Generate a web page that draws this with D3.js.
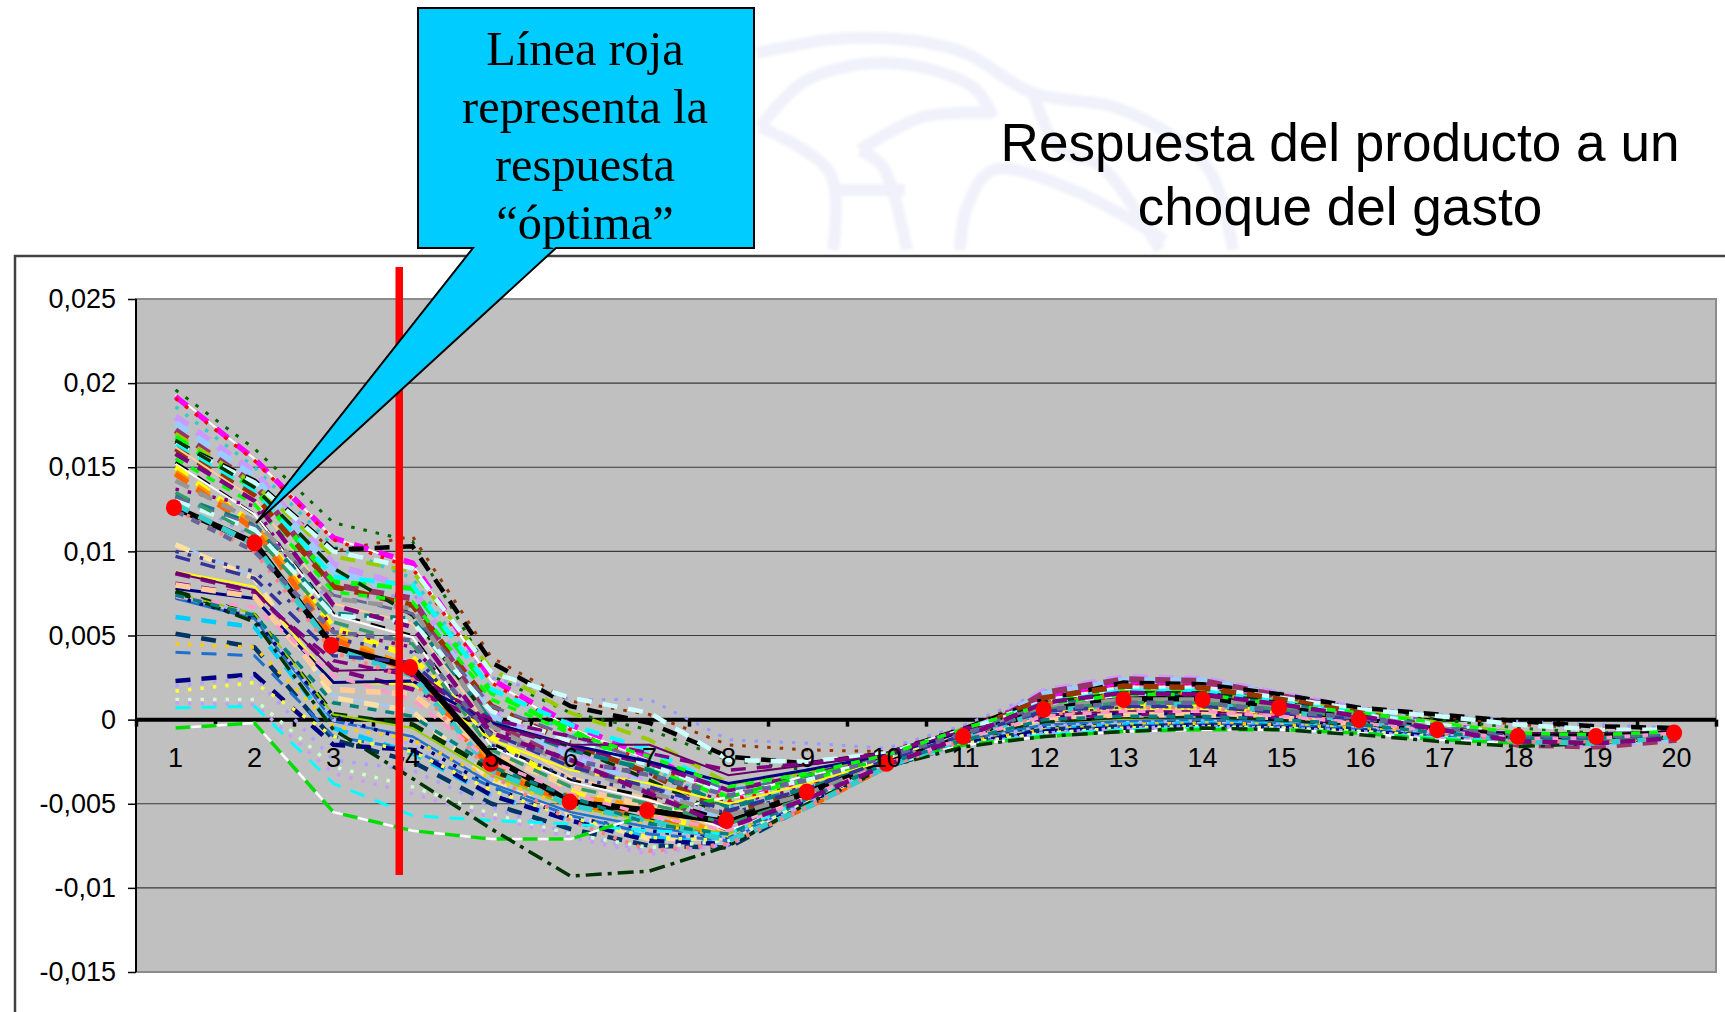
<!DOCTYPE html>
<html lang="es">
<head>
<meta charset="utf-8">
<title>Respuesta del producto a un choque del gasto</title>
<script src="https://cdn.jsdelivr.net/npm/d3@7"></script>
<style>
html,body{margin:0;padding:0;background:#fff;overflow:hidden}
svg{display:block}
</style>
</head>
<body>
<div id="chart"></div>
<script>
// ---------- data ----------
const categories = d3.range(1, 21);
const yTickValues = [0.025, 0.02, 0.015, 0.01, 0.005, 0, -0.005, -0.01, -0.015];
const yTickLabels = ["0,025", "0,02", "0,015", "0,01", "0,005", "0", "-0,005", "-0,01", "-0,015"];
const valueUnit = 1e-4;   // the series below are written in units of 0,0001

const seriesValues = [
 [196,161,117,106,26,4,-6,-24,-30,-22,-7,10,19,19,12,6,0,-5,-8,-7],
 [165,141,100,109,37,11,3,-15,-18,-19,-4,14,24,23,15,7,2,-3,-5,-6],
 [134,108,70,75,25,12,12,-12,-14,-17,-3,17,25,24,16,7,3,-1,-3,-5],
 [193,155,108,92,23,-5,-24,-47,-37,-23,-6,13,21,20,13,6,-4,-10,-11,-9],
 [192,155,108,93,24,-3,-22,-45,-36,-24,-7,14,22,21,14,6,-3,-9,-11,-9],
 [191,154,107,90,22,-6,-26,-48,-38,-25,-7,12,20,20,13,5,-4,-10,-12,-9],
 [186,150,103,84,18,-9,-28,-52,-41,-26,-8,11,19,19,12,4,-5,-11,-12,-9],
 [180,147,92,78,5,-20,-38,-63,-48,-27,-10,17,25,24,15,6,-5,-13,-15,-11],
 [176,144,88,74,2,-22,-40,-60,-46,-26,-9,15,23,23,14,6,-4,-12,-14,-11],
 [172,140,80,72,-2,-26,-42,-66,-50,-28,-11,16,24,23,14,5,-6,-15,-16,-12],
 [170,140,97,88,30,4,-12,-38,-32,-22,-6,10,17,17,11,5,-2,-8,-10,-8],
 [168,137,82,78,16,-6,-30,-46,-36,-23,-6,11,18,18,11,4,-4,-10,-11,-9],
 [165,142,101,103,34,8,-2,-22,-26,-20,-5,12,22,21,15,7,3,-1,-4,-5],
 [164,141,100,90,28,13,4,-24,-25,-20,-6,11,19,19,13,6,2,-3,-6,-6],
 [163,136,85,80,18,-3,-18,-42,-34,-23,-6,10,17,17,10,4,-3,-9,-10,-8],
 [161,133,79,68,8,-14,-32,-55,-42,-25,-8,13,20,19,12,4,-5,-11,-13,-10],
 [166,138,90,62,-2,-16,-36,-58,-44,-25,-8,10,16,16,10,3,-6,-13,-14,-10],
 [162,131,69,57,-6,-34,-47,-68,-50,-28,-10,7,12,12,7,1,-7,-13,-14,-10],
 [153,122,63,50,-14,-36,-46,-60,-45,-26,-10,5,10,10,5,0,-7,-12,-12,-9],
 [152,122,62,49,-16,-37,-48,-66,-48,-27,-11,4,9,9,4,-1,-8,-13,-13,-10],
 [150,116,55,37,-10,-42,-55,-69,-50,-28,-11,4,9,9,5,-1,-7,-12,-13,-9],
 [147,116,50,30,-28,-46,-52,-70,-51,-28,-10,6,11,11,6,0,-7,-12,-13,-10],
 [146,113,48,28,-30,-50,-58,-72,-52,-28,-11,9,15,14,8,1,-7,-12,-14,-10],
 [137,127,53,43,-5,-25,-32,-50,-40,-24,-8,6,11,11,6,0,-6,-11,-12,-9],
 [133,116,63,60,-1,-18,-30,-52,-41,-25,-8,8,14,14,9,3,-4,-10,-11,-9],
 [132,115,74,63,8,-10,-25,-42,-34,-22,-6,8,13,13,8,3,-4,-9,-10,-8],
 [130,113,62,58,5,-13,-27,-44,-36,-23,-6,9,14,14,9,3,-3,-9,-10,-8],
 [128,104,42,26,-30,-51,-60,-72,-52,-28,-11,5,9,9,5,-1,-7,-13,-14,-10],
 [125,100,40,24,-33,-60,-78,-74,-52,-28,-12,3,7,7,3,-2,-8,-13,-13,-10],
 [105,85,14,6,-35,-56,-70,-72,-50,-28,-12,2,5,5,2,-2,-7,-12,-12,-9],
 [104,84,13,5,-36,-57,-71,-70,-49,-27,-12,1,5,4,2,-3,-8,-11,-12,-9],
 [100,88,48,40,-15,-35,-42,-56,-43,-25,-9,3,7,7,3,-1,-6,-10,-10,-8],
 [88,79,22,21,-12,-30,-38,-50,-38,-24,-8,2,6,6,3,-1,-5,-10,-10,-8],
 [87,76,30,18,-3,-16,-26,-42,-33,-22,-7,1,4,4,2,-2,-6,-10,-10,-8],
 [78,72,22,23,-2,-15,-25,-38,-30,-21,-7,1,4,3,1,-3,-6,-9,-10,-8],
 [87,77,29,30,-3,-15,-15,-33,-27,-21,-6,3,5,5,2,-1,-5,-8,-8,-7],
 [81,74,35,26,0,-10,-20,-30,-26,-20,-5,0,3,3,1,-2,-6,-9,-9,-7],
 [80,73,18,15,-20,-40,-52,-62,-44,-25,-9,0,3,3,1,-3,-7,-10,-10,-8],
 [76,62,3,-3,-30,-48,-60,-72,-48,-27,-12,-2,0,1,-1,-4,-8,-12,-12,-9],
 [75,63,3,-5,-33,-52,-60,-68,-47,-26,-12,-3,0,0,-2,-5,-8,-12,-12,-9],
 [72,60,-1,-10,-38,-55,-64,-70,-48,-27,-12,-3,-1,0,-2,-5,-9,-11,-11,-9],
 [74,63,0,-15,-45,-58,-68,-70,-48,-27,-13,-4,-2,-1,-3,-5,-9,-12,-12,-9],
 [73,60,2,-13,-40,-58,-66,-72,-49,-27,-13,-5,-3,-2,-3,-5,-10,-12,-12,-9],
 [61,55,-5,-20,-45,-60,-70,-74,-50,-28,-14,-6,-3,-2,-3,-6,-10,-13,-12,-9],
 [51,43,-12,-25,-50,-65,-75,-76,-51,-28,-14,-6,-4,-3,-4,-6,-11,-13,-12,-9],
 [45,43,-4,-12,-35,-52,-62,-69,-47,-26,-13,-6,-3,-2,-3,-5,-9,-11,-11,-8],
 [40,38,-10,-18,-40,-57,-68,-72,-48,-27,-14,-7,-4,-3,-4,-6,-10,-12,-11,-9],
 [23,27,-15,-18,-45,-60,-72,-74,-49,-27,-14,-7,-5,-4,-5,-7,-10,-13,-12,-9],
 [20,25,-24,-30,-52,-68,-78,-75,-50,-27,-15,-8,-5,-4,-5,-7,-11,-13,-12,-9],
 [17,22,-10,-19,-42,-58,-70,-72,-48,-27,-14,-8,-5,-4,-5,-7,-10,-12,-11,-9],
 [12,12,-28,-40,-56,-68,-76,-72,-48,-27,-15,-8,-6,-5,-5,-7,-11,-13,-12,-9],
 [10,9,-32,-44,-58,-70,-80,-74,-49,-27,-15,-9,-6,-5,-6,-8,-11,-14,-12,-9],
 [7,8,-38,-57,-60,-62,-66,-68,-47,-26,-15,-9,-6,-5,-6,-8,-11,-13,-12,-9],
 [-5,-2,-55,-66,-71,-71,-56,-46,-33,-24,-15,-10,-7,-6,-6,-8,-12,-14,-12,-9],
 [-5,-2,-55,-66,-71,-71,-56,-46,-33,-24,-15,-10,-7,-6,-6,-8,-12,-14,-12,-9],
 [76,58,-6,-35,-65,-93,-90,-75,-50,-28,-16,-10,-7,-5,-6,-9,-13,-16,-14,-10],
 [142,118,72,66,-4,-28,-43,-57,-44,-25,-9,7,12,12,8,2,-5,-11,-12,-9],
 [135,110,58,45,-18,-40,-50,-62,-46,-26,-10,6,10,10,6,1,-6,-11,-12,-9],
 [97,84,38,34,-8,-28,-40,-54,-41,-24,-9,5,8,8,4,0,-6,-10,-11,-8],
 [73,67,26,12,-25,-44,-57,-66,-46,-26,-11,2,5,5,2,-2,-7,-11,-11,-8],
 [74,62,10,2,-28,-46,-62,-68,-47,-26,-12,0,2,2,0,-3,-8,-11,-11,-9],
 [124,100,52,47,-10,-24,-33,-45,-36,-22,-8,6,10,10,5,1,-5,-9,-10,-8],
 [155,128,76,70,12,-8,-22,-40,-32,-21,-5,9,15,15,9,4,-2,-8,-9,-7],
 [158,130,68,55,-8,-24,-44,-64,-47,-27,-10,10,16,15,9,2,-6,-13,-14,-11]
];
const seriesColors = [
 "#006400","#993300","#9999FF","#FFFFFF","#FF00FF","#FF0000","#33CCCC","#CC99FF","#99CCFF","#993366",
 "#99CC00","#00FF00","#000000","#CCFFFF","#00FFFF","#993300","#003300","#FFCC99","#000000","#FFFFFF",
 "#FFFF00","#FF9900","#FF6600","#800080","#008080","#666699","#CCFFFF","#33CCCC","#FF8080","#99CCFF",
 "#FFE0A0","#333399","#FFFF00","#800080","#000080","#660066","#800080","#FFCC99","#003300","#99CC00",
 "#1F6FCC","#B0B0FF","#000080","#00CCFF","#003366","#FFCC00","#1F6FCC","#000080","#B0A0FF","#FFFF33",
 "#CCFFCC","#CC99FF","#00FFFF","#FFFFFF","#00DD00","#003300","#969696","#339966","#333399","#FF99CC",
 "#008080","#666699","#00FF00","#800080"
];
const seriesDash = [
 "o","o","o","s","D","o","o","D","D","D",
 "D","D","D","D","D","D","D","s","D","s",
 "D","D","D","o","D","D","D","D","o","s",
 "D","o","s","D","s","s","D","D","D","s",
 "s","o","o","D","D","o","D","D","o","o",
 "o","o","D","s","D","q","D","D","D","d",
 "d","d","d","D"
];
const seriesWidths = [
 3,3,3,2,5.5,3.5,3.5,7,7,6,
 4,5,4.5,4.5,4.5,5.5,3.5,2,3,2,
 5.5,6,5.5,3.5,4.5,3,4.5,5.5,4,2,
 5,3.5,2,4.5,3,2,3.5,5.5,5,2,
 2.5,4,3.5,4.5,4.5,3.5,3,4.5,3.5,3.5,
 3.5,3.5,3,2.5,3.5,3.5,4.5,3.5,3.5,3.5,
 3.5,4.5,3.5,4.5
];
const optimalLine = [126,105,43,31,-22,-49,-54,-61,-43,-26,-10,6,12,13,7,0,-6,-10,-10,-8];
const optimalDotCats = [0.98,2,2.97,3.97,4.99,5.99,6.97,7.97,8.99,10,10.97,11.99,13,14,14.97,15.98,16.97,17.99,18.98,19.97];
const optimalDotVals = [126,105,44,31,-26,-49,-54,-60,-43,-26,-10,6,12,12,7,0,-6,-10,-10,-8];
const calloutLines = ["Línea roja", "representa la", "respuesta", "“óptima”"];
const titleLines = ["Respuesta del producto a un", "choque del gasto"];

// ---------- layout ----------
const W = 1725, H = 1012;
const plot = {l:136, r:1716, t:299, b:972};
const dashMap = {s:null, D:"15,11", d:"9,9", q:"16,6,4,6", o:"3.5,9"};

const svg = d3.select("#chart").append("svg").attr("width", W).attr("height", H)
  .attr("viewBox", `0 0 ${W} ${H}`);
svg.append("filter").attr("id","soft").append("feGaussianBlur").attr("stdDeviation",1.6);

const x = d3.scaleLinear().domain([0.5, 20.5]).range([plot.l, plot.r]);
const y = d3.scaleLinear().domain([-0.015, 0.025]).range([plot.b, plot.t]);

// faint emblem behind the slide
const emblem = svg.append("g").attr("fill","none").attr("stroke","#F1F1FB").attr("stroke-width",12).attr("filter","url(#soft)");
const curve = d3.line().curve(d3.curveCatmullRom);
[
 [[757,53],[850,38],[957,50],[1033,93],[1123,110],[1207,167],[1233,250]],
 [[760,127],[807,80],[890,63],[973,87],[993,117]],
 [[860,150],[923,117],[993,113]],
 [[860,150],[883,167],[907,250]],
 [[760,127],[830,173],[833,250]],
 [[835,190],[905,190]],
 [[960,250],[967,207],[993,170],[1073,190],[1165,240]],
 [[1033,93],[1060,150],[1100,165],[1160,250]]
].forEach(p => emblem.append("path").attr("d", curve(p)));

// chart frame
svg.append("path").attr("d", `M15,${H+5}V256H${W+5}`)
  .attr("fill","#fff").attr("stroke","#404040").attr("stroke-width",2.5);

// plot area
svg.append("rect").attr("x",plot.l).attr("y",plot.t).attr("width",plot.r-plot.l).attr("height",plot.b-plot.t)
  .attr("fill","#C0C0C0").attr("stroke","#8C8C8C").attr("stroke-width",2);

// gridlines
svg.append("g").selectAll("line").data(yTickValues.filter(v => v !== 0.025 && v !== -0.015 && v !== 0)).join("line")
  .attr("x1",plot.l).attr("x2",plot.r).attr("y1",d=>y(d)).attr("y2",d=>y(d))
  .attr("stroke","#3A3A3A").attr("stroke-width",1.2);

// y axis
const yAxis = d3.axisLeft(y).tickValues(yTickValues).tickSize(8).tickPadding(12)
  .tickFormat((d,i) => yTickLabels[i]);
const gy = svg.append("g").attr("transform",`translate(${plot.l},0)`).call(yAxis);
gy.select(".domain").attr("stroke","#000").attr("stroke-width",2).attr("d",`M0,${plot.t}V${plot.b}`);
gy.selectAll(".tick line").attr("stroke","#000").attr("stroke-width",1.5);
gy.selectAll("text").attr("font-family","'Liberation Sans',Arial,sans-serif").attr("font-size",27).attr("fill","#000");

// x axis on the zero line, ticks between categories
const xEdges = d3.range(0.5, 21, 1);
const xAxis = d3.axisBottom(x).tickValues(xEdges).tickSize(7).tickFormat("");
const gx = svg.append("g").attr("transform",`translate(0,${y(0)})`).call(xAxis);
gx.select(".domain").attr("stroke","#000").attr("stroke-width",4).attr("d",`M${plot.l},0H${plot.r}`);
gx.selectAll(".tick line").attr("stroke","#000").attr("stroke-width",3.5);

// series, with the thick black optimal response among them
const line = d3.line().x((d,i)=>x(categories[i])).y(d=>y(d*valueUnit)).curve(d3.curveLinear);
const drawSeries = (from, to) => svg.append("g").attr("fill","none")
  .selectAll("path").data(d3.range(from, to)).join("path")
  .attr("d", i => line(seriesValues[i]))
  .attr("stroke", i => seriesColors[i])
  .attr("stroke-width", i => seriesWidths[i])
  .attr("stroke-dasharray", i => dashMap[seriesDash[i]])
  .attr("stroke-linejoin","miter");
drawSeries(0, 27);
drawSeries(29, 56);
svg.append("path").datum(optimalLine).attr("d",line).attr("fill","none")
  .attr("stroke","#000").attr("stroke-width",6);
drawSeries(27, 29);
drawSeries(56, seriesValues.length);

svg.append("g").selectAll("ellipse").data(optimalDotVals).join("ellipse")
  .attr("cx",(d,i)=>x(optimalDotCats[i])).attr("cy",d=>y(d*valueUnit))
  .attr("rx",8).attr("ry",8.5).attr("fill","#FF0000");

// category labels
svg.append("g").selectAll("text").data(categories).join("text")
  .attr("x",d=>x(d)).attr("y",y(0)+47)
  .attr("text-anchor","middle")
  .attr("font-family","'Liberation Sans',Arial,sans-serif").attr("font-size",27).attr("fill","#000")
  .text(d=>d);

// vertical red marker
svg.append("rect").attr("x",395.5).attr("y",267).attr("width",7.5).attr("height",608).attr("fill","#FF0000");

// callout
svg.append("path")
  .attr("d","M418,8H754V248H556L256,523L473,248H418Z")
  .attr("fill","#00CCFF").attr("stroke","#000").attr("stroke-width",2).attr("stroke-linejoin","miter");
svg.append("g").selectAll("text").data(calloutLines).join("text")
  .attr("x",585).attr("y",(d,i)=>65+i*58)
  .attr("text-anchor","middle")
  .attr("font-family","'Liberation Serif','Times New Roman',serif").attr("font-size",48.4).attr("fill","#000")
  .text(d=>d);

// title
svg.append("g").selectAll("text").data(titleLines).join("text")
  .attr("x",1340).attr("y",(d,i)=>161+i*64)
  .attr("text-anchor","middle")
  .attr("font-family","'Liberation Sans',Arial,sans-serif").attr("font-size",53.1).attr("fill","#000")
  .text(d=>d);
</script>
</body>
</html>
